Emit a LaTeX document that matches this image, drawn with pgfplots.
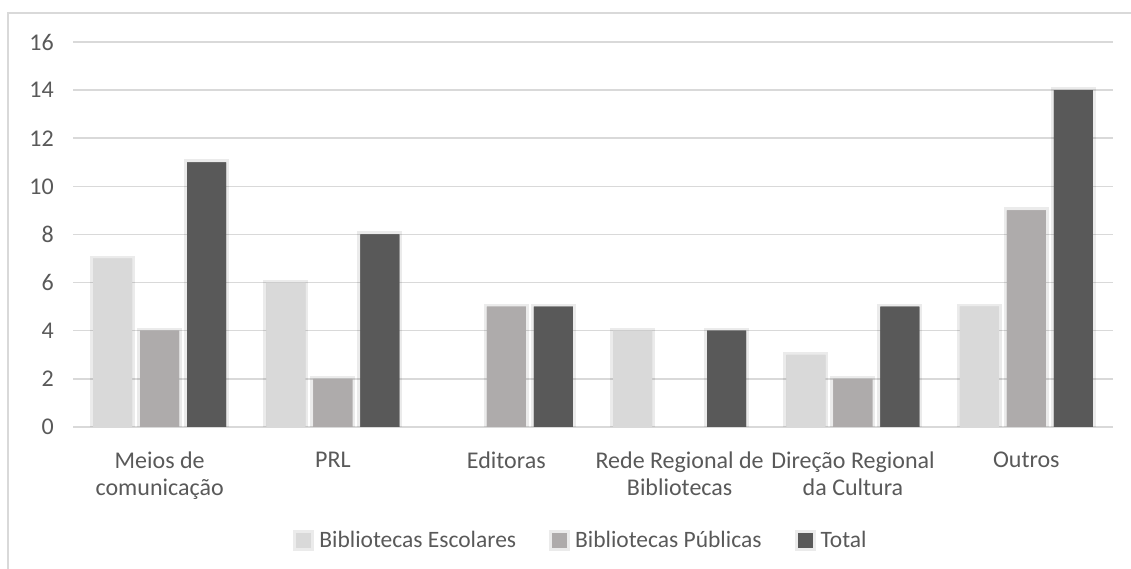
\documentclass[border=0pt]{standalone}
\usepackage{pgfplots}
\pgfplotsset{compat=1.18}
\usepackage{fontspec}
\setmainfont{Carlito}
\definecolor{cEsc}{HTML}{D9D9D9}
\definecolor{cPub}{HTML}{AEABAB}
\definecolor{cTot}{HTML}{595959}
\definecolor{txt}{HTML}{595959}
\definecolor{grid}{HTML}{D9D9D9}
\tikzset{halo/.style={preaction={draw=black, draw opacity=0.08, line width=6pt}}}
\begin{document}
\fontsize{24}{28}\selectfont
\begin{tikzpicture}[x=1pt,y=1pt]
\useasboundingbox (0,0) rectangle (1131,569);
\draw[color=grid, line width=1.5pt] (8,-5) -- (8,556) -- (1140,556);
\begin{axis}[
  at={(73pt,142pt)}, anchor=south west,
  scale only axis, width=1040pt, height=385pt,
  xmin=-0.5, xmax=5.5, ymin=0, ymax=16,
  ytick={0,2,...,16},
  xtick={0,1,2,3,4,5},
  xticklabels={{Meios de\\comunicação},{PRL},{Editoras},{Rede Regional de\\Bibliotecas},{Direção Regional\\da Cultura},{Outros}},
  axis line style={draw=none},
  major tick length=0pt,
  ymajorgrids, grid style={color=grid, line width=1.5pt},
  ticklabel style={font=\fontsize{24}{27}\selectfont, text=txt},
  yticklabel style={inner sep=0pt, xshift=-19pt},
  xticklabel style={anchor=north, inner sep=0pt, yshift=-25pt, align=center},
  ybar=8pt, bar width=39pt,
  /pgf/number format/assume math mode=true,
  legend columns=3,
  legend style={at={(0.4875,-0.296)}, anchor=center, draw=none, fill=none,
    font=\fontsize{23.5}{28}\selectfont, text=txt,
    nodes={inner sep=0pt},
    /tikz/every odd column/.style={column sep=5pt},
    /tikz/every even column/.style={column sep=33pt}},
  legend image code/.code={\begin{scope}[halo/.style={}]\fill[#1] (0pt,-7.5pt) rectangle (15pt,7.5pt);\end{scope}},
  every axis plot/.append style={draw=none},
]
\addplot[fill=cEsc, halo] coordinates {(0,7) (1,6) (3,4) (4,3) (5,5)};
\addlegendentry{Bibliotecas Escolares}
\addplot[fill=cPub, halo] coordinates {(0,4) (1,2) (2,5) (4,2) (5,9)};
\addlegendentry{Bibliotecas Públicas}
\addplot[fill=cTot, halo] coordinates {(0,11) (1,8) (2,5) (3,4) (4,5) (5,14)};
\addlegendentry{Total}
\end{axis}
\end{tikzpicture}
\end{document}
